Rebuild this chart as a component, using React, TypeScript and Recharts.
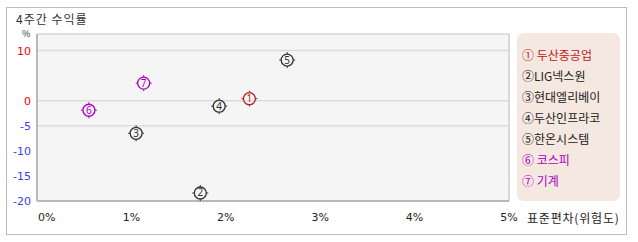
import React from 'react';
import { ScatterChart, Scatter, XAxis, YAxis, CartesianGrid, ReferenceLine, ReferenceArea } from 'recharts';

const names = ['두산중공업', 'LIG넥스원', '현대엘리베이', '두산인프라코', '한온시스템', '코스피', '기계'];
const marks = ['①', '②', '③', '④', '⑤', '⑥', '⑦'];
const riskValues = [2.25, 1.73, 1.05, 1.93, 2.65, 0.55, 1.13];
const returnValues = [0.4, -18.4, -6.5, -1.1, 8.1, -1.9, 3.5];
const colors = ['#b81c1c', '#333333', '#333333', '#333333', '#333333', '#a800c0', '#a800c0'];
const legendColors = ['#c01818', '#222222', '#222222', '#222222', '#222222', '#a800c0', '#a800c0'];
const xTicks = [0, 1, 2, 3, 4, 5];
const yTicks = [10, 0, -5, -10, -15, -20];
const yGridValues = [10, 0, -5];

const data = names.map((n, i) => ({ name: n, x: riskValues[i], y: returnValues[i], color: colors[i], num: String(i + 1) }));

const FONT = '"Noto Sans CJK KR", "Noto Sans", sans-serif';

const Marker = (props: any) => {
  const { cx, cy, payload } = props;
  if (cx == null || cy == null) return null;
  const c = payload.color;
  const r = 6;
  return (
    <g>
      <circle cx={cx} cy={cy} r={r} fill="none" stroke={c} strokeWidth={1.3} />
      <line x1={cx} y1={cy - r - 2} x2={cx} y2={cy - r} stroke={c} strokeWidth={1} />
      <line x1={cx} y1={cy + r} x2={cx} y2={cy + r + 2} stroke={c} strokeWidth={1} />
      <line x1={cx - r - 2} y1={cy} x2={cx - r} y2={cy} stroke={c} strokeWidth={1} />
      <line x1={cx + r} y1={cy} x2={cx + r + 2} y2={cy} stroke={c} strokeWidth={1} />
      <text x={cx} y={cy + 3.5} textAnchor="middle" fontSize={10} fontFamily='"Noto Sans", sans-serif' fill={c}>{payload.num}</text>
    </g>
  );
};

const XTick = (props: any) => {
  const { x, y, payload } = props;
  const v = payload.value;
  return (
    <text x={v === 0 ? x + 1 : x} y={y + 20} textAnchor={v === 0 ? 'start' : 'middle'} fontSize={11} fontFamily='"DejaVu Sans", sans-serif' fill="#222">{v}%</text>
  );
};

const YTick = (props: any) => {
  const { x, y, payload } = props;
  const v = payload.value;
  return (
    <text x={x} y={y + 4} textAnchor="end" fontSize={11} fontFamily='"DejaVu Sans", sans-serif' fill={v >= 0 ? '#ff0000' : '#3b3bff'}>{v}</text>
  );
};

export default function App() {
  return (
    <div style={{ position: 'absolute', left: 0, top: 0, width: 638, height: 242, background: '#fff', fontFamily: FONT }}>
      <div style={{ position: 'absolute', left: 6, top: 7, width: 621, height: 228, border: '1px solid #bbbbbb', boxSizing: 'border-box' }} />
      <div style={{ position: 'absolute', left: 16, top: 11, fontSize: 12, lineHeight: '15px', color: '#333', letterSpacing: 1 }}>4주간 수익률</div>
      <div style={{ position: 'absolute', left: 22, top: 29, fontSize: 9, lineHeight: '10px', color: '#333' }}>%</div>
      <div style={{ position: 'absolute', left: 0, top: 0 }}>
        <ScatterChart width={638} height={242} margin={{ top: 34, right: 129, bottom: 11, left: 7 }}>
          <ReferenceArea x1={0} x2={5} y1={-20} y2={13.3} fill="#f5f5f5" stroke="#c4c4c4" strokeWidth={1} fillOpacity={1} ifOverflow="visible" />
          <CartesianGrid horizontal={false} stroke="#dcdcdc" strokeWidth={1.5} />
          {yGridValues.map((v) => (
            <ReferenceLine key={v} y={v} stroke="#dcdcdc" strokeWidth={1.5} />
          ))}
          <XAxis type="number" dataKey="x" domain={[0, 5]} ticks={xTicks} height={30} tick={<XTick />} tickLine={false} tickSize={0} tickMargin={0} axisLine={{ stroke: '#b8b8b8', strokeWidth: 2 }} allowDataOverflow interval={0} />
          <YAxis type="number" dataKey="y" domain={[-20, 13.3]} ticks={yTicks} width={30} tick={<YTick />} tickLine={false} tickSize={4} tickMargin={2} axisLine={{ stroke: '#b8b8b8', strokeWidth: 2 }} allowDataOverflow interval={0} />
          <Scatter data={data} shape={<Marker />} isAnimationActive={false} />
        </ScatterChart>
      </div>
      <div style={{ position: 'absolute', left: 517, top: 33, width: 103, height: 168, background: '#f5e8e1', borderRadius: 7, boxSizing: 'border-box', paddingTop: 11, paddingLeft: 5 }}>
        {names.map((n, i) => (
          <div key={n} style={{ fontSize: 12, lineHeight: '21px', height: 21, color: legendColors[i], whiteSpace: 'nowrap' }}>{marks[i]}{i === 0 || i >= 5 ? ' ' : ''}{n}</div>
        ))}
      </div>
      <div style={{ position: 'absolute', left: 527, top: 210, fontSize: 12, lineHeight: '16px', color: '#222', letterSpacing: 0.8 }}>표준편차(위험도)</div>
    </div>
  );
}
